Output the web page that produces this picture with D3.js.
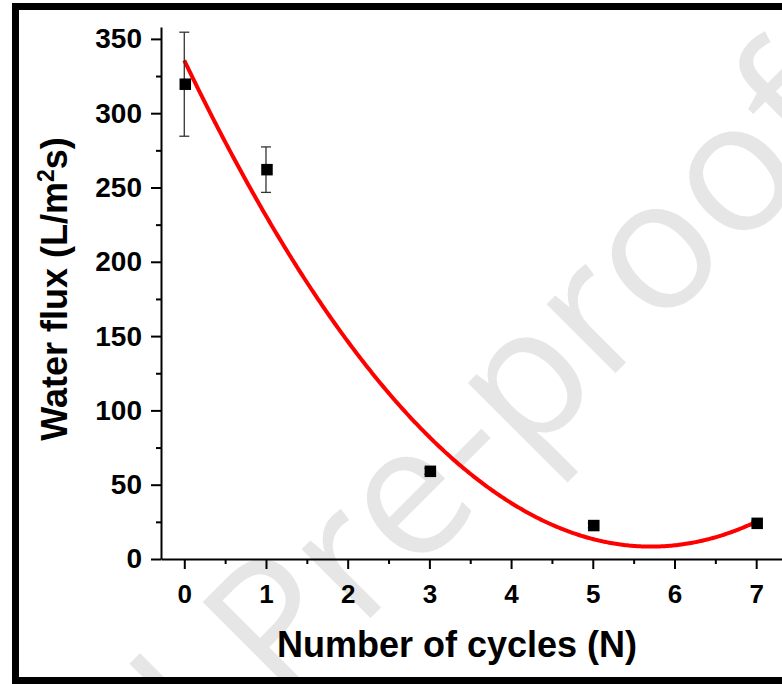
<!DOCTYPE html>
<html>
<head>
<meta charset="utf-8">
<script src="https://cdn.jsdelivr.net/npm/d3@7"></script>
<style>
  html, body { margin: 0; padding: 0; background: #fff; }
  svg { display: block; }
</style>
</head>
<body>
<svg id="chart" width="782" height="684"></svg>
<script>
// Measured water flux after repeated cycles (mean ± SD)
const cycles = [0, 1, 3, 5, 7];
const flux = [319.5, 262, 59, 22.5, 24];
const fluxErr = [35, 15.3, 2, 1.5, 1.5];

const xTicks = [0, 1, 2, 3, 4, 5, 6, 7];
const xMinorTicks = [0.5, 1.5, 2.5, 3.5, 4.5, 5.5, 6.5, 7.5];
const yTicks = [0, 50, 100, 150, 200, 250, 300, 350];
const yMinorTicks = [25, 75, 125, 175, 225, 275, 325];

const xTitle = "Number of cycles (N)";
const watermark = "Journal Pre-proof";

const svg = d3.select("#chart");
const font = "'Liberation Sans', Arial, Helvetica, sans-serif";

svg.append("rect").attr("width", 782).attr("height", 684).attr("fill", "#fff");

// Watermark, rotated along the diagonal
const wm = svg.append("text")
  .attr("transform", "rotate(-45)")
  .attr("x", 0).attr("y", 699)
  .attr("font-family", "'Open Sans', 'DejaVu Sans', sans-serif")
  .attr("font-size", 182)
  .attr("fill", "#e6e6e6")
  .text(watermark);
{
  const i = watermark.indexOf("proof") + 2;
  const s = wm.node().getStartPositionOfChar(i);
  const e = wm.node().getEndPositionOfChar(i);
  wm.attr("x", 285 - (s.x + e.x) / 2);
}

// Scales
const x = d3.scaleLinear().domain([-0.285, 7.4]).range([161, 161 + 7.685 * 81.7]);
const y = d3.scaleLinear().domain([0, 358]).range([559, 27]);

// Quadratic least-squares fit of flux against cycles
function quadFit(xs, ys) {
  const S = k => d3.sum(xs, v => Math.pow(v, k));
  const T = k => d3.sum(xs, (v, i) => Math.pow(v, k) * ys[i]);
  const A = [[S(0), S(1), S(2)], [S(1), S(2), S(3)], [S(2), S(3), S(4)]];
  const b = [T(0), T(1), T(2)];
  // Gaussian elimination
  for (let c = 0; c < 3; c++) {
    for (let r = c + 1; r < 3; r++) {
      const f = A[r][c] / A[c][c];
      for (let k = c; k < 3; k++) A[r][k] -= f * A[c][k];
      b[r] -= f * b[c];
    }
  }
  const coef = [0, 0, 0];
  for (let r = 2; r >= 0; r--) {
    let s = b[r];
    for (let k = r + 1; k < 3; k++) s -= A[r][k] * coef[k];
    coef[r] = s / A[r][r];
  }
  return coef;
}
const coef = quadFit(cycles, flux);
const fitX = d3.range(0, 7.0001, 0.02);
const fitPts = fitX.map(v => [v, coef[0] + coef[1] * v + coef[2] * v * v]);

// Axes
function styleAxis(g) {
  g.selectAll("path, line").attr("stroke", "#000").attr("stroke-width", 2);
  g.selectAll("text").attr("font-family", font).attr("font-weight", "bold").attr("fill", "#000");
}

svg.append("g").attr("transform", "translate(0,559)")
  .call(d3.axisBottom(x).tickValues(xMinorTicks).tickSize(5).tickSizeOuter(0).tickFormat(""))
  .call(g => g.select(".domain").remove())
  .call(styleAxis);
svg.append("g").attr("transform", "translate(0,559)")
  .call(d3.axisBottom(x).tickValues(xTicks).tickSize(10).tickSizeOuter(0).tickPadding(16).tickFormat(d3.format("d")))
  .call(styleAxis)
  .call(g => g.selectAll("text").attr("font-size", 26));

svg.append("g").attr("transform", "translate(161,0)")
  .call(d3.axisLeft(y).tickValues(yMinorTicks).tickSize(5).tickSizeOuter(0).tickFormat(""))
  .call(g => g.select(".domain").remove())
  .call(styleAxis);
svg.append("g").attr("transform", "translate(161,0)")
  .call(d3.axisLeft(y).tickValues(yTicks).tickSize(10).tickSizeOuter(0).tickPadding(9).tickFormat(d3.format("d")))
  .call(styleAxis)
  .call(g => g.selectAll("text").attr("font-size", 28));

// Fitted curve
svg.append("path")
  .datum(fitPts)
  .attr("fill", "none")
  .attr("stroke", "#ff0000")
  .attr("stroke-width", 4)
  .attr("d", d3.line().x(d => x(d[0])).y(d => y(d[1])));

// Error bars
const pts = cycles.map((c, i) => ({ c, v: flux[i], e: fluxErr[i] }));
const eb = svg.append("g").attr("stroke", "#333").attr("stroke-width", 1.3);
eb.selectAll("line.v").data(pts).join("line")
  .attr("x1", d => x(d.c)).attr("x2", d => x(d.c))
  .attr("y1", d => y(d.v + d.e)).attr("y2", d => y(d.v - d.e));
eb.selectAll("line.t").data(pts).join("line")
  .attr("x1", d => x(d.c) - 5).attr("x2", d => x(d.c) + 5)
  .attr("y1", d => y(d.v + d.e)).attr("y2", d => y(d.v + d.e));
eb.selectAll("line.b").data(pts).join("line")
  .attr("x1", d => x(d.c) - 5).attr("x2", d => x(d.c) + 5)
  .attr("y1", d => y(d.v - d.e)).attr("y2", d => y(d.v - d.e));

// Data markers
const sq = 11.5;
svg.append("g").selectAll("rect").data(pts).join("rect")
  .attr("x", d => x(d.c) - sq / 2 + 1)
  .attr("y", d => y(d.v) - sq / 2)
  .attr("width", sq).attr("height", sq)
  .attr("fill", "#000");

// Axis titles
svg.append("text")
  .attr("x", 457).attr("y", 657)
  .attr("text-anchor", "middle")
  .attr("font-family", font).attr("font-weight", "bold").attr("font-size", 36)
  .text(xTitle);

const yt = svg.append("text")
  .attr("transform", "translate(67,289) rotate(-90)")
  .attr("text-anchor", "middle")
  .attr("font-family", font).attr("font-weight", "bold").attr("font-size", 36);
yt.append("tspan").text("Water flux (L/m");
yt.append("tspan").attr("font-size", 23).attr("dy", -13).text("2");
yt.append("tspan").attr("dy", 13).text("s)");

// Outer frame
svg.append("rect")
  .attr("x", 15.5).attr("y", 6.5).attr("width", 820).attr("height", 674)
  .attr("fill", "none").attr("stroke", "#000").attr("stroke-width", 7);
</script>
</body>
</html>
